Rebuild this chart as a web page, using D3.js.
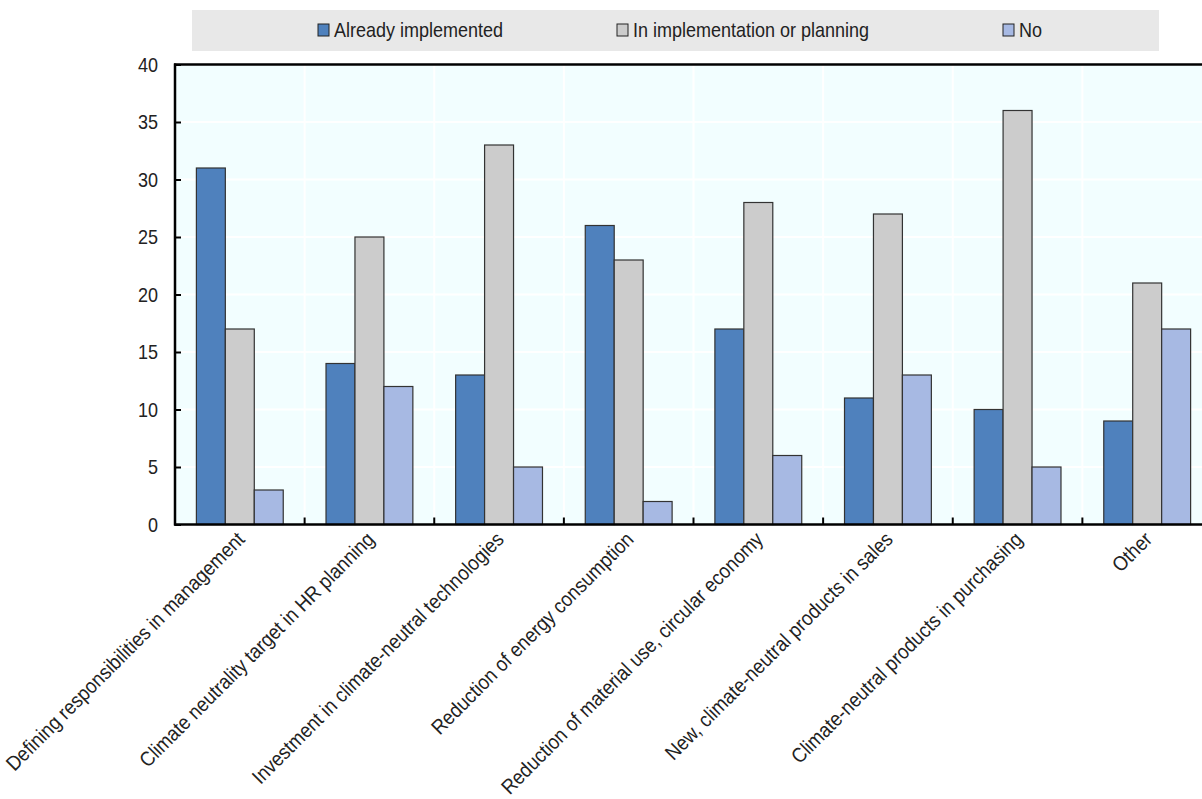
<!DOCTYPE html>
<html>
<head>
<meta charset="utf-8">
<script src="https://cdn.jsdelivr.net/npm/d3@7"></script>
<style>
  body { margin: 0; background: #fff; }
  svg { display: block; font-family: "Liberation Sans", Arial, sans-serif; }
</style>
</head>
<body>
<svg id="chart" width="1202" height="799"></svg>
<script>
'use strict';

// data
const categories = [
  'Defining responsibilities in management',
  'Climate neutrality target in HR planning',
  'Investment in climate-neutral technologies',
  'Reduction of energy consumption',
  'Reduction of material use, circular economy',
  'New, climate-neutral products in sales',
  'Climate-neutral products in purchasing',
  'Other',
];
const seriesNames = ['Already implemented', 'In implementation or planning', 'No'];
const already = [31, 14, 13, 26, 17, 11, 10, 9];
const planning = [17, 25, 33, 23, 28, 27, 36, 21];
const no = [3, 12, 5, 2, 6, 13, 5, 17];
const yTicks = [0, 5, 10, 15, 20, 25, 30, 35, 40];

const colors = ['#4F81BD', '#CCCCCC', '#A7B9E3'];

const data = categories.map((c, i) => ({
  cat: c,
  values: [already[i], planning[i], no[i]],
}));

const svg = d3.select('#chart');
// plot box (right edge runs past the window, as in the reference)
const plotL = 175, plotR = 1212, plotT = 64.5, plotB = 524.5;
// no narrow font installed, so squeeze the regular one a bit
const squeeze = 'scale(0.9,1)';
const fontSize = 20;

const x0 = d3.scaleBand()
  .domain(categories)
  .range([plotL, plotR])
  .paddingInner(0.33)
  .paddingOuter(0.165);
const x1 = d3.scaleBand()
  .domain(seriesNames)
  .range([0, x0.bandwidth()]);
const y = d3.scaleLinear().domain([0, 40]).range([plotB, plotT]);
const step = x0.step();

// plot background
svg.append('rect')
  .attr('x', plotL).attr('y', plotT)
  .attr('width', plotR - plotL).attr('height', plotB - plotT)
  .attr('fill', '#F2FEFF');

// gridlines
svg.append('g').selectAll('line')
  .data(yTicks.slice(1))
  .join('line')
  .attr('x1', plotL).attr('x2', plotR)
  .attr('y1', d => y(d)).attr('y2', d => y(d))
  .attr('stroke', '#fff').attr('stroke-width', 2);
const bounds = d3.range(1, categories.length).map(i => plotL + i * step);
svg.append('g').selectAll('line')
  .data(bounds)
  .join('line')
  .attr('x1', d => d).attr('x2', d => d)
  .attr('y1', plotT).attr('y2', plotB)
  .attr('stroke', '#fff').attr('stroke-width', 2);

// bars
const groups = svg.append('g').selectAll('g')
  .data(data)
  .join('g')
  .attr('transform', d => `translate(${x0(d.cat)},0)`);
groups.selectAll('rect')
  .data(d => d.values.map((v, j) => ({ key: seriesNames[j], v: v, j: j })))
  .join('rect')
  .attr('x', d => x1(d.key))
  .attr('y', d => y(d.v))
  .attr('width', x1.bandwidth())
  .attr('height', d => y(0) - y(d.v))
  .attr('fill', d => colors[d.j])
  .attr('stroke', '#333')
  .attr('stroke-width', 1.2);

// y axis
const yAxis = svg.append('g')
  .attr('transform', `translate(${plotL},0)`)
  .call(d3.axisRight(y).tickValues(yTicks).tickSize(6).tickFormat(d3.format('d')));
yAxis.select('.domain').remove();
yAxis.selectAll('line').attr('stroke', '#000').attr('stroke-width', 2);
yAxis.selectAll('text').remove();
svg.append('g').selectAll('text')
  .data(yTicks)
  .join('text')
  .attr('transform', d => `translate(${plotL - 17},${y(d)}) ${squeeze}`)
  .attr('text-anchor', 'end')
  .attr('dy', '0.35em')
  .attr('font-size', fontSize).attr('fill', '#222')
  .text(d => d);

// frame lines
svg.append('line').attr('x1', plotL).attr('x2', plotL).attr('y1', plotT - 1).attr('y2', plotB + 1)
  .attr('stroke', '#000').attr('stroke-width', 2.5);
svg.append('line').attr('x1', plotL - 1).attr('x2', plotR).attr('y1', plotT).attr('y2', plotT)
  .attr('stroke', '#000').attr('stroke-width', 2.5);
svg.append('line').attr('x1', plotL - 1).attr('x2', plotR).attr('y1', plotB).attr('y2', plotB)
  .attr('stroke', '#000').attr('stroke-width', 2.5);

// x ticks at category boundaries (pointing up)
svg.append('g').selectAll('line')
  .data(bounds)
  .join('line')
  .attr('x1', d => d).attr('x2', d => d)
  .attr('y1', plotB).attr('y2', plotB - 7)
  .attr('stroke', '#000').attr('stroke-width', 2);

// x labels, rotated
svg.append('g').selectAll('text')
  .data(categories)
  .join('text')
  .attr('transform', d => `translate(${x0(d) + x0.bandwidth() / 2 + 1},${plotB + 11}) rotate(-45) ${squeeze}`)
  .attr('text-anchor', 'end')
  .attr('dy', '0.35em')
  .attr('font-size', 20.6)
  .attr('fill', '#222')
  .text(d => d);

// legend
svg.append('rect')
  .attr('x', 192).attr('y', 10).attr('width', 967).attr('height', 41)
  .attr('fill', '#E8E8E8');
const legendX = [318, 617, 1003];
const leg = svg.append('g').selectAll('g')
  .data(seriesNames)
  .join('g')
  .attr('transform', (d, i) => `translate(${legendX[i]},30)`);
leg.append('rect')
  .attr('x', 0).attr('y', -6).attr('width', 11).attr('height', 12)
  .attr('fill', (d, i) => colors[i])
  .attr('stroke', '#222').attr('stroke-width', 1);
leg.append('text')
  .attr('transform', `translate(16,0) ${squeeze}`)
  .attr('dy', '0.35em')
  .attr('font-size', fontSize).attr('fill', '#222')
  .text(d => d);
</script>
</body>
</html>
